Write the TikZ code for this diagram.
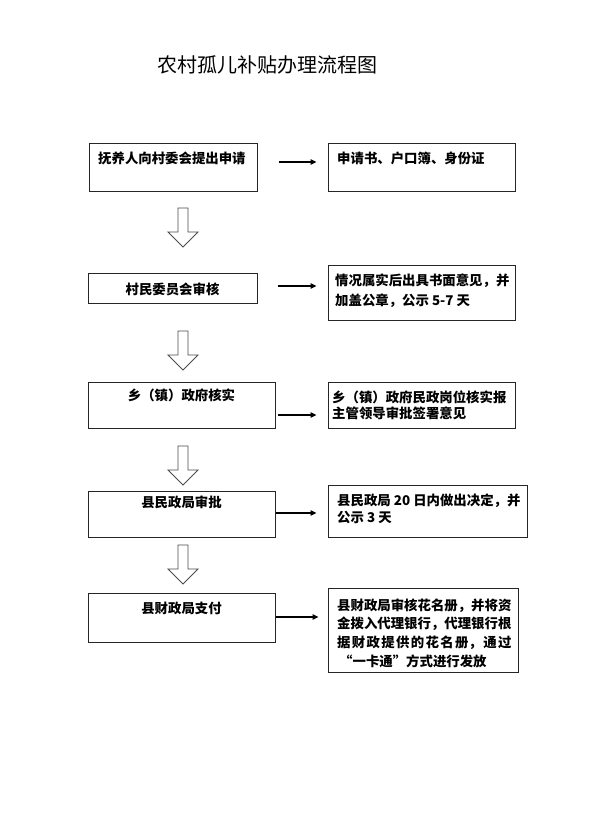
\documentclass[tikz,border=0pt]{standalone}
\usepackage{fontspec}
\newfontfamily\cjk{Noto Sans CJK SC}
\usetikzlibrary{arrows.meta}
\tikzset{
  box/.style={draw=black!85, line width=1pt, inner sep=0pt, fill=none},
  txt/.style={font=\cjk\bfseries\fontsize{13.4pt}{19pt}\selectfont, inner sep=0pt, align=left, anchor=north west},
  ctxt/.style={font=\cjk\bfseries\fontsize{13.4pt}{19pt}\selectfont, inner sep=0pt},
  harrow/.style={line width=1.4pt, -{Triangle[length=6pt,width=5.5pt]}},
  darrow/.style={draw=black!70, line width=0.8pt, fill=white},
}
\begin{document}
\begin{tikzpicture}[x=1pt,y=-1pt]
\useasboundingbox (0,0) rectangle (595,822);
\fill[white] (0,0) rectangle (595,822);

% title
\node[font=\cjk\fontsize{20pt}{24pt}\selectfont, inner sep=0pt] (title) at (267.5,65) {农村孤儿补贴办理流程图};

% boxes
\node[box, minimum width=168pt, minimum height=48pt] (b1l) at (173,167) {};
\node[box, minimum width=187pt, minimum height=48pt] (b1r) at (421.5,167) {};
\node[box, minimum width=169pt, minimum height=30pt] (b2l) at (172.5,288) {};
\node[box, minimum width=187pt, minimum height=55pt] (b2r) at (421.5,292.5) {};
\node[box, minimum width=187pt, minimum height=46pt] (b3l) at (181.5,405) {};
\node[box, minimum width=187pt, minimum height=46pt] (b3r) at (421.5,405) {};
\node[box, minimum width=187pt, minimum height=46pt] (b4l) at (181.5,514) {};
\node[box, minimum width=199pt, minimum height=52pt] (b4r) at (427.5,511) {};
\node[box, minimum width=187pt, minimum height=49pt] (b5l) at (181.5,617.5) {};
\node[box, minimum width=190pt, minimum height=84pt] (b5r) at (423,630) {};

% texts
\node[txt] (t1l) at (98,151.3) {抚养人向村委会提出申请};
\node[txt] (t1r) at (337,151.3) {申请书、户口簿、身份证};
\node[ctxt] (t2l) at (172.5,289) {村民委员会审核};
\node[txt, font=\cjk\bfseries\fontsize{13.4pt}{20.5pt}\selectfont] (t2r) at (335,273.3) {情况属实后出具书面意见，并\\加盖公章，公示 5-7 天};
\node[ctxt] (t3l) at (181.5,395) {乡（镇）政府核实};
\node[txt, font=\cjk\bfseries\fontsize{13.4pt}{15.5pt}\selectfont] (t3r) at (332,391) {乡（镇）政府民政岗位核实报\\主管领导审批签署意见};
\node[ctxt] (t4l) at (181.5,502) {县民政局审批};
\node[txt, font=\cjk\bfseries\fontsize{13.4pt}{16.7pt}\selectfont] (t4r) at (337,494) {县民政局 20 日内做出决定，并\\公示 3 天};
\node[ctxt] (t5l) at (181.5,608) {县财政局支付};
\node[txt, font=\cjk\bfseries\fontsize{13.4pt}{18.8pt}\selectfont] (t5r) at (337,598.3) {县财政局审核花名册，并将资\\金拨入代理银行，代理银行根\\\makebox[174.2pt][l]{据\hfill 财\hfill 政\hfill 提\hfill 供\hfill 的\hfill 花\hfill 名\hfill 册，\hfill 通\hfill 过}\\\hspace{2pt}“一卡通”方式进行发放};

% horizontal arrows
\coordinate (y1) at (0,162);
\coordinate (y2) at (0,286);
\coordinate (y3) at (0,415);
\coordinate (y4) at (0,513);
\coordinate (y5) at (0,617);
\draw[harrow, shorten <=21pt, shorten >=11pt] (b1l.east |- y1) -- (b1r.west |- y1);
\draw[harrow, shorten <=20pt, shorten >=11pt] (b2l.east |- y2) -- (b2r.west |- y2);
\draw[harrow, shorten <=2pt, shorten >=11pt] (b3l.east |- y3) -- (b3r.west |- y3);
\draw[harrow, shorten >=11pt] (b4l.east |- y4) -- (b4r.west |- y4);
\draw[harrow, line width=2.3pt, shorten >=9pt] (b5l.east |- y5) -- (b5r.west |- y5);

% hollow down arrows
\coordinate (d1) at (183,208);
\coordinate (d2) at (183,331);
\coordinate (d3) at (183,446);
\coordinate (d4) at (183,545);
\foreach \d in {d1,d2,d3,d4}{
  \draw[darrow] (\d) ++(-5,0) -- ++(10,0) -- ++(0,24) -- ++(10,0) -- ++(-15,15) -- ++(-15,-15) -- ++(10,0) -- cycle;
}
\end{tikzpicture}
\end{document}
